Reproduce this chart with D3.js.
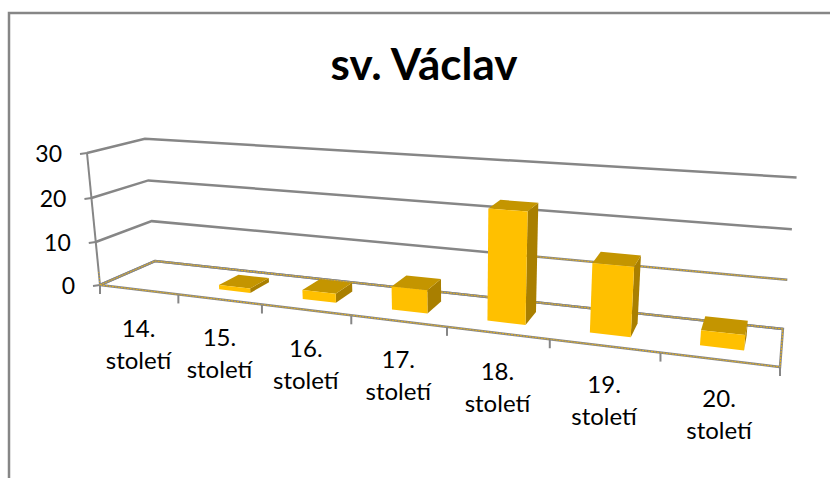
<!DOCTYPE html>
<html lang="en">
  <head>
    <meta charset="utf-8" />
    <script src="https://d3js.org/d3.v7.min.js" charset="utf-8"></script>
    <style>
      body { margin: 0; background: #fff; font-family: 'Lato', 'Liberation Sans', sans-serif; }
      svg { display: block; }
    </style>
  </head>
  <body>
    <div id="plot-container"></div>
    <script type="text/javascript">
      // data
      var categories = ['14.', '15.', '16.', '17.', '18.', '19.', '20.'];
      var values = [0, 1, 2, 5, 23, 14, 3];
      var value_ticks = [0, 10, 20, 30];
      var chart_title = 'sv. Václav';
      var label_suffix = 'století';

      var width = 830, height = 478;
      var grey = '#868686', gold = '#e8b31c';

      var svg = d3.select('#plot-container').append('svg')
        .attr('width', width).attr('height', height);

      // scales into the unit box of the 3d plot
      var scale_x = d3.scaleBand().domain(categories).range([0, 1])
        .paddingInner(0.62).paddingOuter(0.31);
      var scale_y = d3.scaleLinear().domain([0, 30]).range([0, 1]);
      var scale_z = d3.scaleLinear().domain([0, 1]).range([0.3, 0.7]);

      // projective view: images of the box origin and axis ends, with weights
      var O = [100, 285], Ex = [780, 367], Ey = [87, 153], Ez = [155, 261];
      var wx = 0.7815, wy = 0.965, wz = 1.084;

      function Project(x, y, z) {
        var w0 = 1 - x - y - z;
        var den = w0 + wx * x + wy * y + wz * z;
        return [0, 1].map(function (k) {
          return (w0 * O[k] + wx * x * Ex[k] + wy * y * Ey[k] + wz * z * Ez[k]) / den;
        });
      }

      function Line(points, color, w, dash) {
        svg.append('path')
          .attr('d', d3.line()(points))
          .attr('fill', 'none')
          .attr('stroke', color)
          .attr('stroke-width', w)
          .attr('stroke-dasharray', dash || null);
      }

      // chart frame
      Line([[9, height], [9, 13], [width, 13]], grey, 2.5);

      // title
      svg.append('text')
        .attr('x', 424).attr('y', 80)
        .attr('text-anchor', 'middle')
        .attr('font-size', 44).attr('font-weight', 'bold')
        .attr('fill', '#000')
        .text(chart_title);

      // walls: gridlines and value axis
      value_ticks.forEach(function (v) {
        var y = scale_y(v);
        var a = Project(0, y, 0), b = Project(0, y, 1), c = Project(1, y, 1);
        Line([a, b, c], grey, 2.5);
        Line([[a[0] - 7, a[1] + 1], a], grey, 2);
        svg.append('text')
          .attr('x', a[0] - 25).attr('y', a[1] + 9)
          .attr('text-anchor', 'end')
          .attr('font-size', 23).attr('fill', '#000')
          .text(v);
      });
      Line([Project(0, 0, 0), Project(0, 1, 0)], grey, 2);

      // floor
      var floor = [Project(0, 0, 0), Project(1, 0, 0), Project(1, 0, 1), Project(0, 0, 1), Project(0, 0, 0)];
      Line(floor, grey, 2.5);
      Line(floor, gold, 1, '2,1');
      Line([Project(0, 0, 0), Project(0, scale_y(3), 0)], gold, 1, '1,2');
      Line([Project(0.6, scale_y(10), 1), Project(1, scale_y(10), 1)], gold, 1, '2,1');

      // category ticks and labels
      d3.range(categories.length + 1).forEach(function (i) {
        var p = Project(i / categories.length, 0, 0);
        Line([p, [p[0], p[1] + 9]], grey, 2);
      });
      categories.forEach(function (c) {
        var p = Project(scale_x(c) + scale_x.bandwidth() / 2, 0, 0);
        var label = svg.append('text')
          .attr('text-anchor', 'middle')
          .attr('font-size', 24).attr('fill', '#000');
        label.append('tspan').attr('x', p[0]).attr('y', p[1] + 47).text(c);
        label.append('tspan').attr('x', p[0]).attr('y', p[1] + 79).text(label_suffix);
      });

      // bars, back to front faces
      categories.forEach(function (c, i) {
        var x0 = scale_x(c), x1 = x0 + scale_x.bandwidth();
        var y1 = scale_y(values[i]);
        var z0 = scale_z(0), z1 = scale_z(1);
        if (values[i] === 0) return;
        var faces = [
          { fill: '#a97f00', pts: [[x1, 0, z0], [x1, 0, z1], [x1, y1, z1], [x1, y1, z0]] },
          { fill: '#c49500', pts: [[x0, y1, z0], [x1, y1, z0], [x1, y1, z1], [x0, y1, z1]] },
          { fill: '#ffc000', pts: [[x0, 0, z0], [x1, 0, z0], [x1, y1, z0], [x0, y1, z0]] },
        ];
        faces.forEach(function (f) {
          svg.append('path')
            .attr('d', d3.line()(f.pts.map(function (q) { return Project(q[0], q[1], q[2]); })) + 'Z')
            .attr('fill', f.fill);
        });
      });
    </script>
  </body>
</html>
